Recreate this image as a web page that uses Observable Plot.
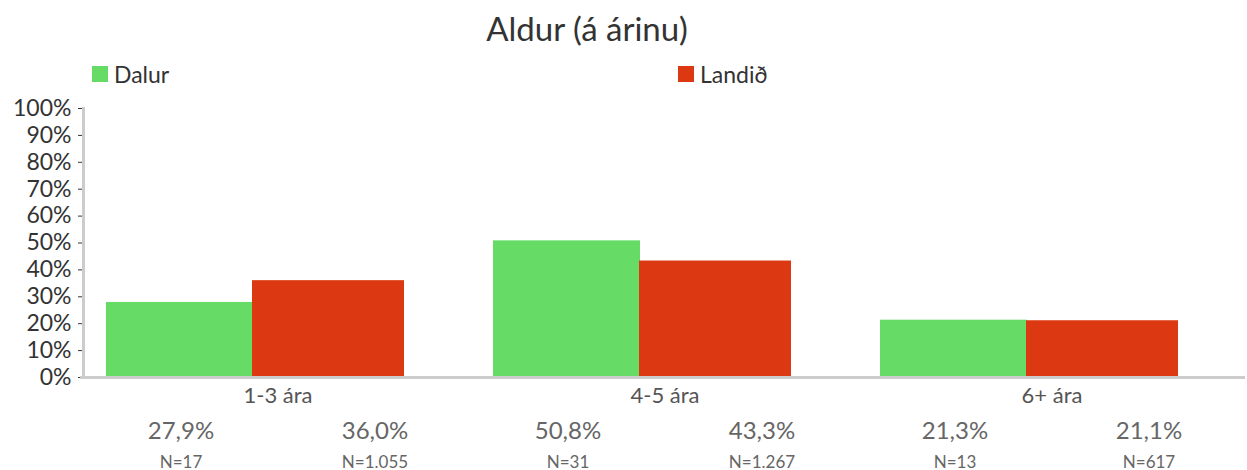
<!DOCTYPE html>
<html><head><meta charset="utf-8">
<script src="https://cdn.jsdelivr.net/npm/d3@7"></script>
<script src="https://cdn.jsdelivr.net/npm/@observablehq/plot@0.6"></script>
<style>
body{margin:0;background:#fff;font-family:Lato,"Noto Sans",sans-serif;}
#wrap{position:relative;width:1247px;height:470px;overflow:hidden;}
#title{position:absolute;top:8px;left:0;width:1174px;text-align:center;font-size:33px;color:#333;line-height:40px;}
.lg{position:absolute;top:62px;display:flex;align-items:center;font-size:23px;color:#333;line-height:24px;}
.sw{width:16px;height:16px;margin-right:6px;}
#chart{position:absolute;top:90px;left:0;}
</style></head><body>
<div id="wrap">
<div id="title">Aldur (á árinu)</div>
<div id="legend"></div>
<div id="chart"></div>
</div>
<script>
const categories = ["1-3 ára", "4-5 ára", "6+ ára"];
const seriesNames = ["Dalur", "Landið"];
const dalurValues = [27.9, 50.8, 21.3];
const landidValues = [36.0, 43.3, 21.1];
const dalurN = ["17", "31", "13"];
const landidN = ["1.055", "1.267", "617"];
const seriesColors = ["#66dc66", "#dc3912"];
const yTicks = [0, 10, 20, 30, 40, 50, 60, 70, 80, 90, 100];

const dalurRows = categories.map((c, i) => ({category: c, value: dalurValues[i], n: dalurN[i]}));
const landidRows = categories.map((c, i) => ({category: c, value: landidValues[i], n: landidN[i]}));
const pct = d => d.value.toFixed(1).replace(".", ",") + "%";

// legend
const legendPos = [92, 678];
const lg = document.getElementById("legend");
seriesNames.forEach((s, i) => {
  const el = document.createElement("div");
  el.className = "lg";
  el.style.left = legendPos[i] + "px";
  el.innerHTML = `<span class="sw" style="background:${seriesColors[i]}"></span><span>${s}</span>`;
  lg.appendChild(el);
});

const plot = Plot.plot({
  width: 1247, height: 380,
  marginLeft: 83, marginRight: 2, marginTop: 18, marginBottom: 93,
  style: {fontFamily: "Lato, 'Noto Sans', sans-serif", background: "transparent"},
  x: {domain: categories, padding: 0, axis: null},
  y: {domain: [0, 100]},
  marks: [
    Plot.barY(dalurRows, {x: "category", y: "value", fill: seriesColors[0], insetLeft: 22, insetRight: 218}),
    Plot.barY(landidRows, {x: "category", y: "value", fill: seriesColors[1], insetLeft: 168, insetRight: 67}),
    Plot.axisY({ticks: yTicks, tickFormat: d => d + "%", tickSize: 5, tickPadding: 7, fontSize: 23, color: "#333", label: null}),
    Plot.frame({anchor: "left", stroke: "#ccc", strokeWidth: 3}),
    Plot.ruleY([0], {stroke: "#ccc", strokeWidth: 3, insetLeft: -3}),
    Plot.text(categories, {x: d => d, frameAnchor: "bottom", dy: 25, text: d => d, fontSize: 22, fill: "#555"}),
    Plot.text(dalurRows, {x: "category", frameAnchor: "bottom", dx: -97, dy: 61, text: pct, fontSize: 24, fill: "#666"}),
    Plot.text(landidRows, {x: "category", frameAnchor: "bottom", dx: 97, dy: 61, text: pct, fontSize: 24, fill: "#666"}),
    Plot.text(dalurRows, {x: "category", frameAnchor: "bottom", dx: -97, dy: 90, text: d => "N=" + d.n, fontSize: 17, fill: "#666"}),
    Plot.text(landidRows, {x: "category", frameAnchor: "bottom", dx: 97, dy: 90, text: d => "N=" + d.n, fontSize: 17, fill: "#666"})
  ]
});
document.getElementById("chart").appendChild(plot);
</script>
</body></html>
